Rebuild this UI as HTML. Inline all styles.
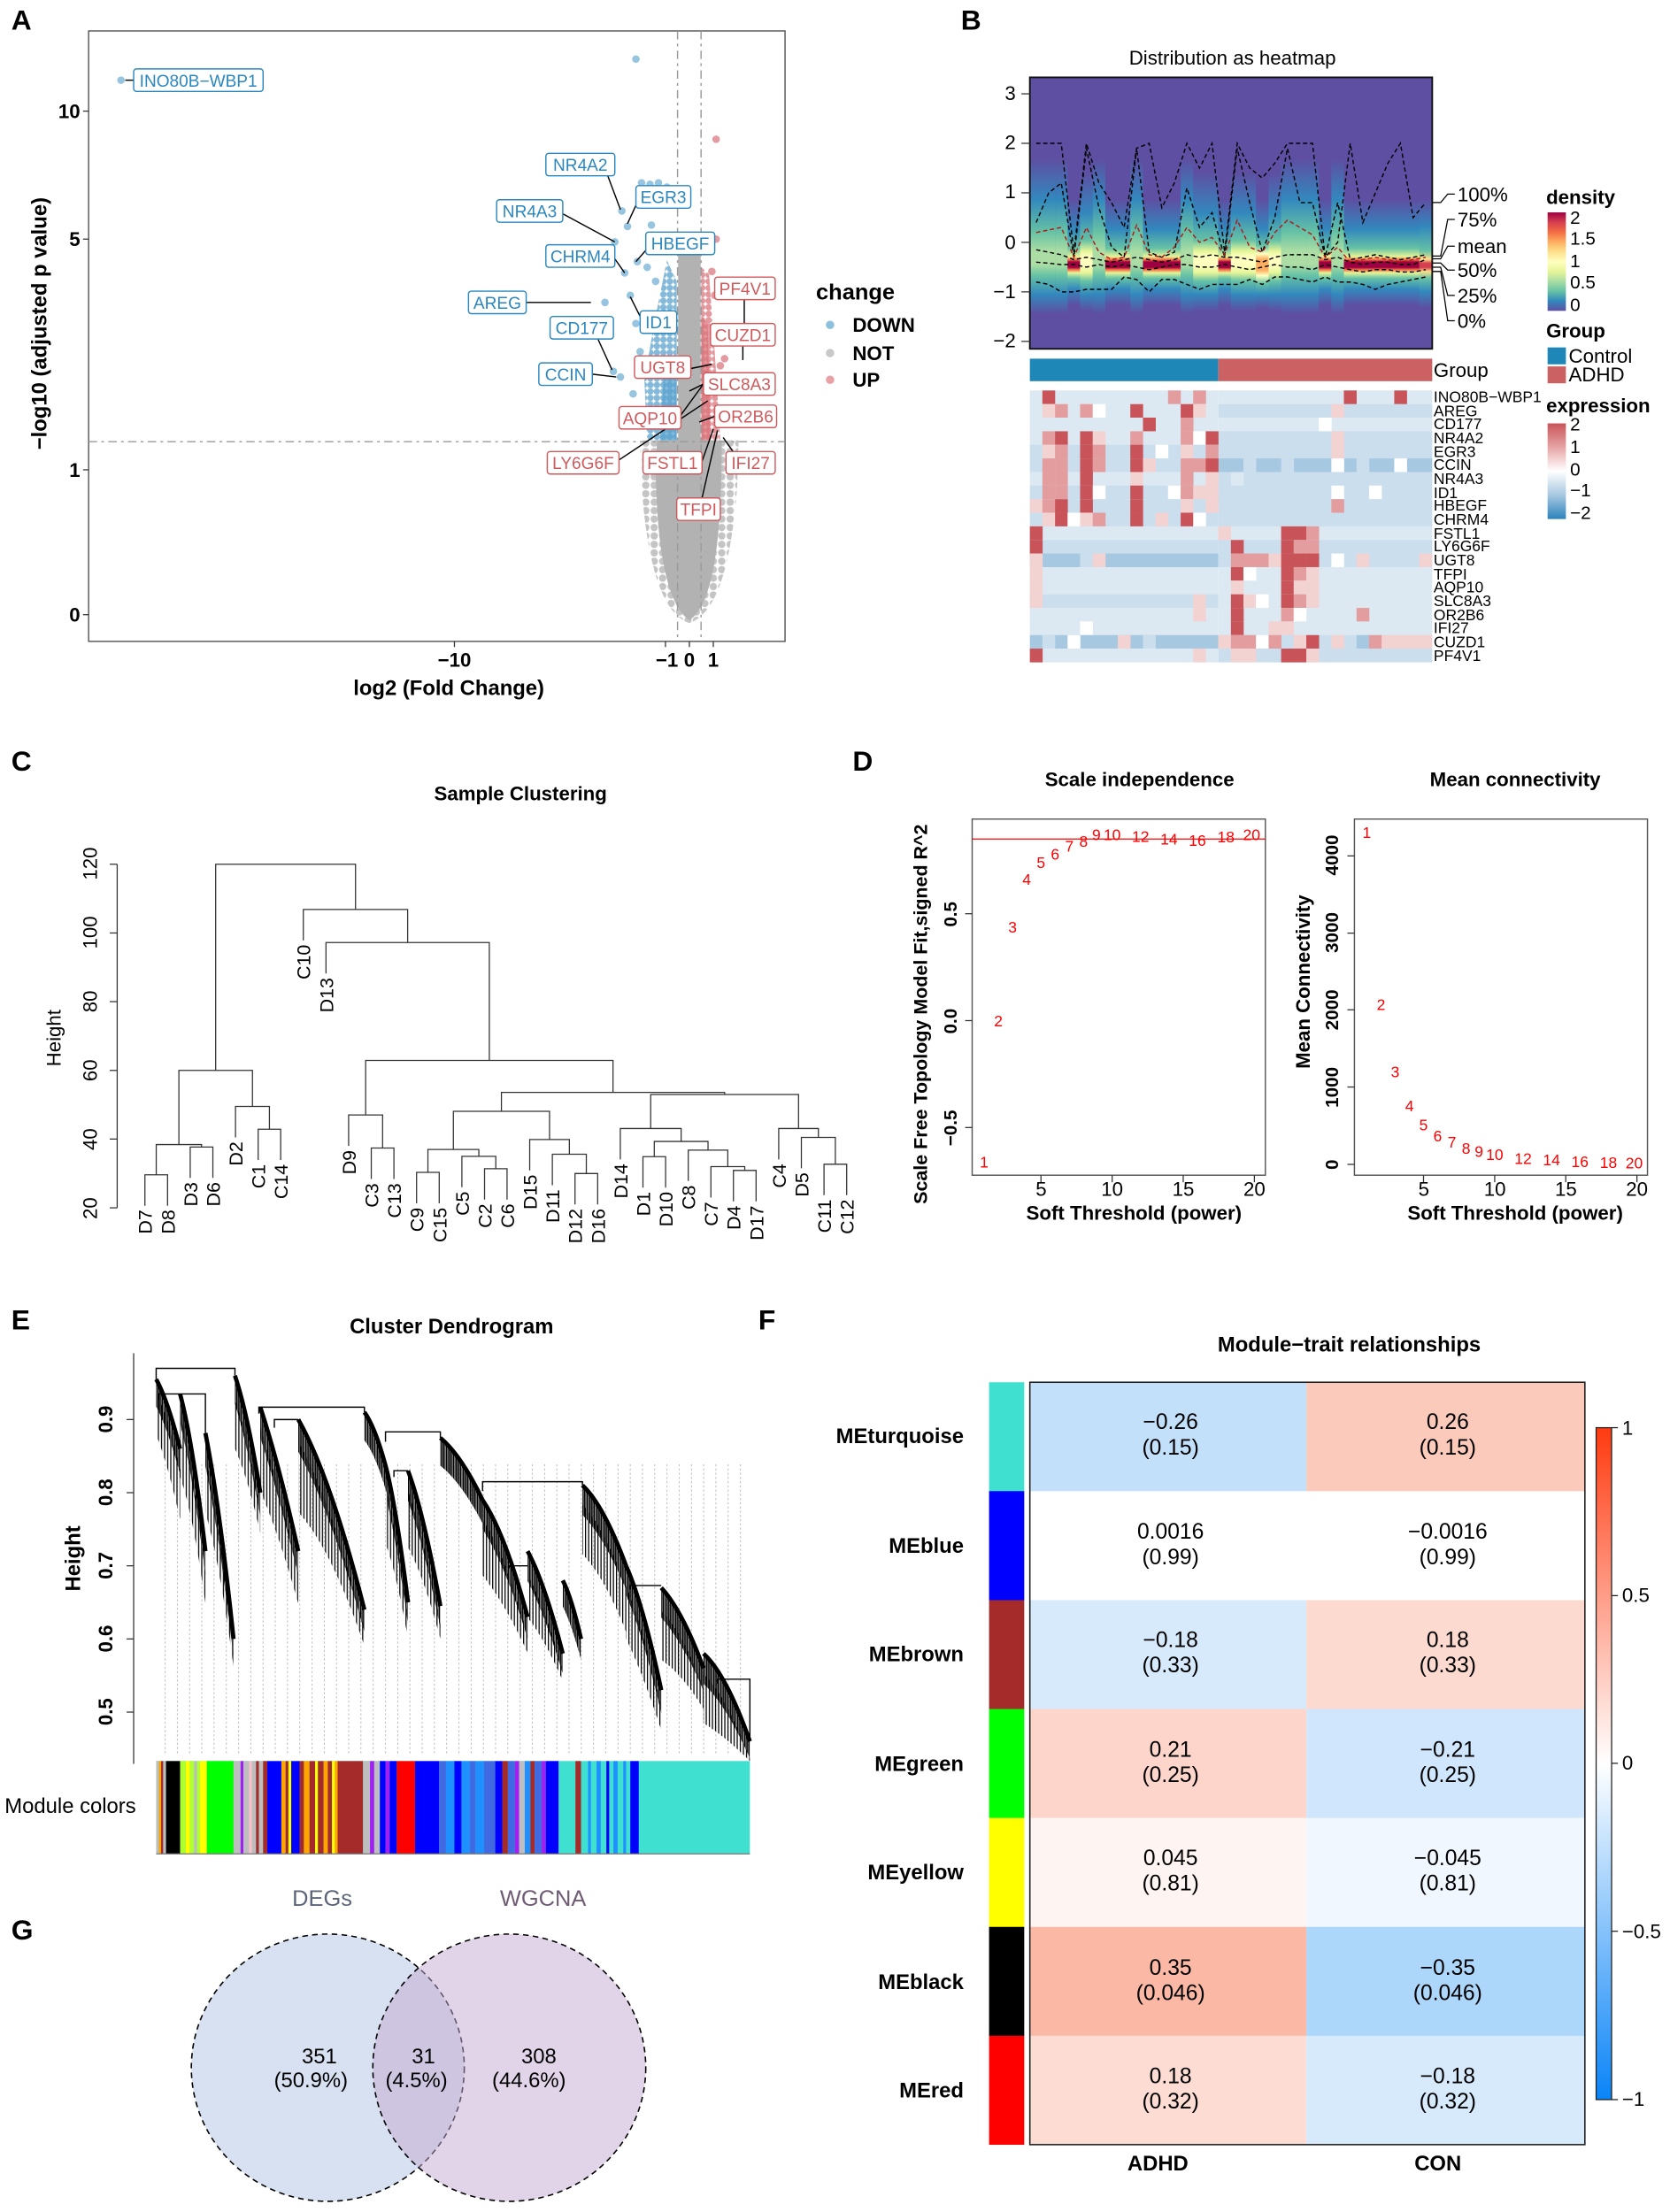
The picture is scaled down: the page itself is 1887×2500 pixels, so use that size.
<!DOCTYPE html>
<html><head><meta charset="utf-8">
<style>html,body{margin:0;padding:0;background:#fff}svg{display:block}
.R{fill:#C85459}.r{fill:#E39D9E}.p{fill:#F3D2D2}.w{fill:#FFFFFF}.a{fill:#DDE9F2}.b{fill:#CADEED}.c{fill:#A7C8E1}
</style>
</head><body>
<svg xmlns="http://www.w3.org/2000/svg" width="1887" height="2500" viewBox="0 0 1187 1572.6" preserveAspectRatio="none" font-family="'Liberation Sans',Arial,sans-serif">
<defs>
<pattern id="pb" width="4.6" height="4.6" patternUnits="userSpaceOnUse"><circle cx="2.3" cy="2.3" r="2.3" fill="#6FADD3" fill-opacity="0.85"/></pattern>
<pattern id="pr" width="4.6" height="4.6" patternUnits="userSpaceOnUse"><circle cx="2.3" cy="2.3" r="2.3" fill="#DE868C" fill-opacity="0.85"/></pattern>
<pattern id="pg" width="6" height="6" patternUnits="userSpaceOnUse"><circle cx="3" cy="3" r="2.6" fill="#C4C4C4"/></pattern>
<pattern id="hat" width="1" height="50" patternUnits="userSpaceOnUse"><rect x="0" y="0" width="0.75" height="50" fill="#000"/></pattern>
<pattern id="hat2" width="2.2" height="80" patternUnits="userSpaceOnUse"><rect x="0" y="0" width="0.8" height="80" fill="#000"/></pattern>
<pattern id="dots" width="8.7" height="3" patternUnits="userSpaceOnUse"><rect x="4" y="0" width="0.5" height="1.5" fill="#aaa"/></pattern>
<linearGradient id="gP" x1="0" y1="0" x2="0" y2="1"><stop offset="0" stop-color="#5E4FA2"/><stop offset="0.45" stop-color="#5E4FA2"/><stop offset="0.56" stop-color="#3288BD"/><stop offset="0.63" stop-color="#66C2A5"/><stop offset="0.66" stop-color="#E6F598"/><stop offset="0.672" stop-color="#F46D43"/><stop offset="0.68" stop-color="#9E0142"/><stop offset="0.70" stop-color="#9E0142"/><stop offset="0.708" stop-color="#F46D43"/><stop offset="0.72" stop-color="#E6F598"/><stop offset="0.74" stop-color="#66C2A5"/><stop offset="0.78" stop-color="#3288BD"/><stop offset="0.84" stop-color="#5E4FA2"/><stop offset="1" stop-color="#5E4FA2"/></linearGradient>
<linearGradient id="gB" x1="0" y1="0" x2="0" y2="1"><stop offset="0" stop-color="#5E4FA2"/><stop offset="0.3" stop-color="#5E4FA2"/><stop offset="0.45" stop-color="#3288BD"/><stop offset="0.57" stop-color="#66C2A5"/><stop offset="0.64" stop-color="#ABDDA4"/><stop offset="0.69" stop-color="#ABDDA4"/><stop offset="0.73" stop-color="#66C2A5"/><stop offset="0.8" stop-color="#3288BD"/><stop offset="0.87" stop-color="#5E4FA2"/><stop offset="1" stop-color="#5E4FA2"/></linearGradient>
<linearGradient id="gY" x1="0" y1="0" x2="0" y2="1"><stop offset="0" stop-color="#5E4FA2"/><stop offset="0.35" stop-color="#5E4FA2"/><stop offset="0.5" stop-color="#3288BD"/><stop offset="0.6" stop-color="#66C2A5"/><stop offset="0.64" stop-color="#E6F598"/><stop offset="0.66" stop-color="#FFFFBF"/><stop offset="0.69" stop-color="#FFFFBF"/><stop offset="0.72" stop-color="#E6F598"/><stop offset="0.75" stop-color="#66C2A5"/><stop offset="0.8" stop-color="#3288BD"/><stop offset="0.86" stop-color="#5E4FA2"/><stop offset="1" stop-color="#5E4FA2"/></linearGradient>
<linearGradient id="gO" x1="0" y1="0" x2="0" y2="1"><stop offset="0" stop-color="#5E4FA2"/><stop offset="0.45" stop-color="#5E4FA2"/><stop offset="0.56" stop-color="#3288BD"/><stop offset="0.62" stop-color="#66C2A5"/><stop offset="0.65" stop-color="#FFFFBF"/><stop offset="0.67" stop-color="#FDAE61"/><stop offset="0.71" stop-color="#FDAE61"/><stop offset="0.73" stop-color="#FFFFBF"/><stop offset="0.76" stop-color="#66C2A5"/><stop offset="0.8" stop-color="#3288BD"/><stop offset="0.85" stop-color="#5E4FA2"/><stop offset="1" stop-color="#5E4FA2"/></linearGradient>
<linearGradient id="gM" x1="0" y1="0" x2="0" y2="1"><stop offset="0" stop-color="#5E4FA2"/><stop offset="0.45" stop-color="#5E4FA2"/><stop offset="0.55" stop-color="#3288BD"/><stop offset="0.64" stop-color="#66C2A5"/><stop offset="0.67" stop-color="#FEE08B"/><stop offset="0.685" stop-color="#D53E4F"/><stop offset="0.70" stop-color="#D53E4F"/><stop offset="0.715" stop-color="#FEE08B"/><stop offset="0.74" stop-color="#66C2A5"/><stop offset="0.79" stop-color="#3288BD"/><stop offset="0.85" stop-color="#5E4FA2"/><stop offset="1" stop-color="#5E4FA2"/></linearGradient>
<linearGradient id="gd" x1="0" y1="1" x2="0" y2="0"><stop offset="0" stop-color="#5E4FA2"/><stop offset="0.1" stop-color="#3288BD"/><stop offset="0.2" stop-color="#66C2A5"/><stop offset="0.3" stop-color="#ABDDA4"/><stop offset="0.4" stop-color="#E6F598"/><stop offset="0.5" stop-color="#FFFFBF"/><stop offset="0.6" stop-color="#FEE08B"/><stop offset="0.7" stop-color="#FDAE61"/><stop offset="0.8" stop-color="#F46D43"/><stop offset="0.9" stop-color="#D53E4F"/><stop offset="1" stop-color="#9E0142"/></linearGradient>
<linearGradient id="ge" x1="0" y1="1" x2="0" y2="0"><stop offset="0" stop-color="#2A83BA"/><stop offset="0.25" stop-color="#A7C8E1"/><stop offset="0.5" stop-color="#FFFFFF"/><stop offset="0.75" stop-color="#E6A4A5"/><stop offset="1" stop-color="#C85459"/></linearGradient>
<linearGradient id="gf" x1="0" y1="1" x2="0" y2="0"><stop offset="0" stop-color="#0A84F7"/><stop offset="0.5" stop-color="#FFFFFF"/><stop offset="1" stop-color="#FF3A10"/></linearGradient>
</defs>

<!-- ================= Panel A ================= -->
<rect x="63" y="22" width="495" height="434" fill="#fff" stroke="#555" stroke-width="0.9"/>
<path d="M490 443 C470 436 460 400 456 345 L455 313 L525 313 L524 345 C520 400 510 436 490 443 Z" fill="url(#pg)"/>
<path d="M490 441 C474 430 467 390 466 335 L467 313 L482 313 L482 180 L498 180 L498 313 L513 313 C513 390 506 430 490 441 Z" fill="#B2B2B2"/>
<path d="M460 313 L481 313 L481 200 L474 185 L465 230 L458 270 Z" fill="url(#pb)"/>
<path d="M469 313 L481 313 L481 255 L472 262 Z" fill="#5AA3CF" fill-opacity="0.75"/>
<path d="M498.5 313 L512 313 L508 250 L504 195 L498.5 190 Z" fill="url(#pr)"/>
<path d="M498.5 313 L505 313 L503 230 L498.5 225 Z" fill="#D9737A" fill-opacity="0.75"/>
<g fill="#7DB6D7" fill-opacity="0.8">
<circle cx="86" cy="57" r="2.7"/><circle cx="452" cy="42" r="2.7"/><circle cx="442" cy="150" r="2.7"/><circle cx="446" cy="161" r="2.7"/>
<circle cx="437" cy="172" r="2.7"/><circle cx="444" cy="194" r="2.7"/><circle cx="430" cy="215" r="2.7"/><circle cx="448" cy="210" r="2.7"/>
<circle cx="436" cy="264" r="2.7"/><circle cx="441" cy="268" r="2.7"/><circle cx="453" cy="186" r="2.7"/><circle cx="456" cy="130" r="2.7"/>
<circle cx="462" cy="131" r="2.7"/><circle cx="468" cy="130" r="2.7"/><circle cx="474" cy="133" r="2.7"/><circle cx="463" cy="160" r="2.7"/>
<circle cx="470" cy="175" r="2.7"/><circle cx="460" cy="190" r="2.7"/><circle cx="466" cy="200" r="2.7"/><circle cx="452" cy="230" r="2.7"/>
<circle cx="455" cy="250" r="2.7"/><circle cx="450" cy="280" r="2.7"/><circle cx="448" cy="295" r="2.7"/></g>
<g fill="#E39AA0"><circle cx="509" cy="99" r="2.7"/><circle cx="509" cy="170" r="2.7"/><circle cx="506" cy="193" r="2.7"/><circle cx="512" cy="260" r="2.7"/><circle cx="515" cy="255" r="2.7"/><circle cx="514" cy="300" r="2.7"/><circle cx="508" cy="210" r="2.7"/></g>
<g stroke="#999" stroke-width="0.9" stroke-dasharray="6 3 2 3"><line x1="481.6" y1="22" x2="481.6" y2="456"/><line x1="498.3" y1="22" x2="498.3" y2="456"/><line x1="63" y1="314" x2="558" y2="314"/></g>
<g stroke="#333" stroke-width="0.8"><line x1="59" y1="79" x2="63" y2="79"/><line x1="59" y1="170" x2="63" y2="170"/><line x1="59" y1="334" x2="63" y2="334"/><line x1="59" y1="437" x2="63" y2="437"/>
<line x1="323" y1="456" x2="323" y2="460"/><line x1="473" y1="456" x2="473" y2="460"/><line x1="490" y1="456" x2="490" y2="460"/><line x1="507" y1="456" x2="507" y2="460"/></g>
<g stroke="#000" stroke-width="0.9">
<line x1="95" y1="57" x2="89" y2="57"/><line x1="432" y1="125" x2="441" y2="149"/><line x1="452" y1="146" x2="446" y2="159"/>
<line x1="400" y1="152" x2="437" y2="172"/><line x1="459" y1="178" x2="452" y2="186"/><line x1="437" y1="184" x2="444" y2="194"/>
<line x1="374" y1="215" x2="420" y2="215"/><line x1="455" y1="225" x2="448" y2="211"/><line x1="425" y1="241" x2="435" y2="263"/>
<line x1="421" y1="266" x2="438" y2="268"/><line x1="529" y1="213" x2="529" y2="237"/><line x1="528" y1="246" x2="528" y2="256"/>
<line x1="491" y1="262" x2="506" y2="259"/><line x1="500" y1="273" x2="490" y2="278"/><line x1="484" y1="295" x2="500" y2="273"/>
<line x1="508" y1="296" x2="497" y2="300"/><line x1="440" y1="327" x2="503" y2="285"/><line x1="499" y1="328" x2="507" y2="305"/>
<line x1="521" y1="321" x2="514" y2="311"/><line x1="499" y1="354" x2="510" y2="306"/></g>
<g fill="#fff" stroke-width="0.9">
<g stroke="#2B87BF">
<rect x="95" y="49" width="92" height="16" rx="2"/><rect x="388" y="109" width="49" height="16" rx="2"/><rect x="452" y="132" width="39" height="16" rx="2"/>
<rect x="353" y="142" width="47" height="16" rx="2"/><rect x="459" y="165" width="49" height="16" rx="2"/><rect x="388" y="174" width="49" height="16" rx="2"/>
<rect x="333" y="207" width="41" height="16" rx="2"/><rect x="455" y="221" width="26" height="16" rx="2"/><rect x="391" y="225" width="45" height="16" rx="2"/>
<rect x="383" y="258" width="38" height="16" rx="2"/></g>
<g stroke="#CF5A5E">
<rect x="508" y="197" width="43" height="16" rx="2"/><rect x="505" y="230" width="46" height="16" rx="2"/><rect x="451" y="253" width="40" height="16" rx="2"/>
<rect x="500" y="265" width="51" height="16" rx="2"/><rect x="440" y="289" width="44" height="16" rx="2"/><rect x="508" y="288" width="44" height="16" rx="2"/>
<rect x="389" y="321" width="51" height="16" rx="2"/><rect x="457" y="321" width="42" height="16" rx="2"/><rect x="516" y="321" width="35" height="16" rx="2"/>
<rect x="481" y="354" width="31" height="16" rx="2"/></g></g>
<g font-size="12" text-anchor="middle">
<g fill="#2B87BF"><text x="141" y="61.5">INO80B−WBP1</text><text x="412.5" y="121.5">NR4A2</text><text x="471.5" y="144.5">EGR3</text>
<text x="376.5" y="154.5">NR4A3</text><text x="483.5" y="177.5">HBEGF</text><text x="412.5" y="186.5">CHRM4</text>
<text x="353.5" y="219.5">AREG</text><text x="468" y="233.5">ID1</text><text x="413.5" y="237.5">CD177</text><text x="402" y="270.5">CCIN</text></g>
<g fill="#CF5A5E"><text x="529.5" y="209.5">PF4V1</text><text x="528" y="242.5">CUZD1</text><text x="471" y="265.5">UGT8</text><text x="525.5" y="277.5">SLC8A3</text>
<text x="462" y="301.5">AQP10</text><text x="530" y="300.5">OR2B6</text><text x="414.5" y="333.5">LY6G6F</text><text x="478" y="333.5">FSTL1</text>
<text x="533.5" y="333.5">IFI27</text><text x="496.5" y="366.5">TFPI</text></g></g>
<g font-size="14" font-weight="bold" text-anchor="end"><text x="57" y="84">10</text><text x="57" y="175">5</text><text x="57" y="339">1</text><text x="57" y="442">0</text></g>
<g font-size="14" font-weight="bold" text-anchor="middle">
<text x="323" y="474">−10</text><text x="474" y="474">−1</text><text x="490" y="474">0</text><text x="507" y="474">1</text>
<text x="319" y="494" font-size="15">log2 (Fold Change)</text>
<text transform="translate(33,230) rotate(-90)" font-size="15">−log10 (adjusted p value)</text></g>
<text x="580" y="213" font-size="16" font-weight="bold">change</text>
<circle cx="590" cy="231" r="3" fill="#8DC0DC"/><circle cx="590" cy="251" r="3" fill="#C8C8C8"/><circle cx="590" cy="270" r="3" fill="#E8A2A6"/>
<g font-size="14" font-weight="bold"><text x="606" y="236">DOWN</text><text x="606" y="256">NOT</text><text x="606" y="275">UP</text></g>

<!-- ================= Panel B ================= -->
<rect x="732" y="55" width="286" height="193" fill="#5E4FA2"/>
<g>
<rect x="732" y="55" width="9.1" height="193" fill="url(#gB)"/><rect x="740.9" y="55" width="9.1" height="193" fill="url(#gB)"/><rect x="749.9" y="55" width="9.1" height="193" fill="url(#gB)"/>
<rect x="758.8" y="55" width="9.1" height="193" fill="url(#gP)"/><rect x="767.7" y="55" width="9.1" height="193" fill="url(#gY)"/><rect x="776.7" y="55" width="9.1" height="193" fill="url(#gB)"/>
<rect x="785.6" y="55" width="9.1" height="193" fill="url(#gP)"/><rect x="794.5" y="55" width="9.1" height="193" fill="url(#gP)"/><rect x="803.4" y="55" width="9.1" height="193" fill="url(#gB)"/>
<rect x="812.4" y="55" width="9.1" height="193" fill="url(#gP)"/><rect x="821.3" y="55" width="9.1" height="193" fill="url(#gP)"/><rect x="830.2" y="55" width="9.1" height="193" fill="url(#gP)"/>
<rect x="839.2" y="55" width="9.1" height="193" fill="url(#gB)"/><rect x="848.1" y="55" width="9.1" height="193" fill="url(#gY)"/><rect x="857" y="55" width="9.1" height="193" fill="url(#gY)"/>
<rect x="865.9" y="55" width="9.1" height="193" fill="url(#gP)"/><rect x="874.9" y="55" width="9.1" height="193" fill="url(#gY)"/><rect x="883.8" y="55" width="9.1" height="193" fill="url(#gY)"/>
<rect x="892.7" y="55" width="9.1" height="193" fill="url(#gO)"/><rect x="901.7" y="55" width="9.1" height="193" fill="url(#gY)"/><rect x="910.6" y="55" width="9.1" height="193" fill="url(#gB)"/>
<rect x="919.5" y="55" width="9.1" height="193" fill="url(#gB)"/><rect x="928.5" y="55" width="9.1" height="193" fill="url(#gB)"/><rect x="937.4" y="55" width="9.1" height="193" fill="url(#gP)"/>
<rect x="946.3" y="55" width="9.1" height="193" fill="url(#gB)"/><rect x="955.2" y="55" width="9.1" height="193" fill="url(#gP)"/><rect x="964.2" y="55" width="9.1" height="193" fill="url(#gP)"/>
<rect x="973.1" y="55" width="9.1" height="193" fill="url(#gP)"/><rect x="982" y="55" width="9.1" height="193" fill="url(#gP)"/><rect x="991" y="55" width="9.1" height="193" fill="url(#gP)"/>
<rect x="999.9" y="55" width="9.1" height="193" fill="url(#gP)"/><rect x="1008.8" y="55" width="9.2" height="193" fill="url(#gM)"/>
</g>
<g fill="none" stroke-width="0.9" stroke-dasharray="3 2">
<polyline stroke="#000" points="736.5,101.9 745.4,101.9 754.3,101.9 763.3,179.3 772.2,101.9 781.1,130.1 790.1,144.1 799,161.7 807.9,105.4 816.8,101.9 825.8,147.7 834.7,130.1 843.6,101.9 852.6,119.5 861.5,101.9 870.4,179.3 879.4,101.9 888.3,119.5 897.2,126.5 906.1,116 915.1,101.9 924,101.9 932.9,101.9 941.9,182.9 950.8,172.3 959.7,101.9 968.7,158.2 977.6,137.1 986.5,116 995.4,101.9 1004.4,154.7 1013.3,144.1"/>
<polyline stroke="#000" points="736.5,158.2 745.4,137.1 754.3,130.1 763.3,182.9 772.2,105.4 781.1,147.7 790.1,175.8 799,182.9 807.9,105.4 816.8,179.3 825.8,182.9 834.7,179.3 843.6,133.6 852.6,161.7 861.5,151.2 870.4,182.9 879.4,105.4 888.3,144.1 897.2,179.3 906.1,154.7 915.1,105.4 924,144.1 932.9,144.1 941.9,182.9 950.8,144.1 959.7,184.6 968.7,182.9 977.6,181.1 986.5,182.9 995.4,184.6 1004.4,182.9 1013.3,181.1"/>
<polyline stroke="#B01818" points="736.5,165.3 745.4,163.5 754.3,161.7 763.3,182.9 772.2,161.7 781.1,179.3 790.1,184.6 799,182.9 807.9,160 816.8,181.1 825.8,182.9 834.7,175.8 843.6,161.7 852.6,172.3 861.5,168.8 870.4,181.1 879.4,156.5 888.3,175.8 897.2,179.3 906.1,165.3 915.1,156.5 924,161.7 932.9,167 941.9,182.9 950.8,175.8 959.7,186.4 968.7,184.6 977.6,182.9 986.5,184.6 995.4,186.4 1004.4,184.6 1013.3,182.9"/>
<polyline stroke="#000" points="736.5,177.6 745.4,179.3 754.3,181.1 763.3,184.6 772.2,182.9 781.1,184.6 790.1,186.4 799,184.6 807.9,182.9 816.8,184.6 825.8,186.4 834.7,184.6 843.6,181.1 852.6,182.9 861.5,181.1 870.4,182.9 879.4,182.9 888.3,184.6 897.2,186.4 906.1,182.9 915.1,181.1 924,181.1 932.9,181.1 941.9,184.6 950.8,182.9 959.7,186.4 968.7,188.1 977.6,186.4 986.5,186.4 995.4,188.1 1004.4,188.1 1013.3,184.6"/>
<polyline stroke="#000" points="736.5,186.4 745.4,187.1 754.3,188.1 763.3,188.1 772.2,189.9 781.1,188.1 790.1,189.9 799,188.1 807.9,189.9 816.8,191.7 825.8,189.9 834.7,188.1 843.6,188.1 852.6,189.9 861.5,189.9 870.4,188.1 879.4,189.9 888.3,191.7 897.2,189.9 906.1,188.1 915.1,189.9 924,189.9 932.9,191.7 941.9,188.1 950.8,189.9 959.7,191.7 968.7,193.4 977.6,191.7 986.5,191.7 995.4,193.4 1004.4,193.4 1013.3,191.7"/>
<polyline stroke="#000" points="736.5,200.5 745.4,202.2 754.3,207.5 763.3,207.5 772.2,205.7 781.1,205.7 790.1,205.7 799,196.9 807.9,198.7 816.8,207.5 825.8,198.7 834.7,198.7 843.6,202.2 852.6,205.7 861.5,202.2 870.4,202.2 879.4,202.2 888.3,198.7 897.2,202.2 906.1,196.9 915.1,196.9 924,198.7 932.9,200.5 941.9,196.9 950.8,200.5 959.7,200.5 968.7,202.2 977.6,205.7 986.5,202.2 995.4,200.5 1004.4,198.7 1013.3,196.9"/>
</g>
<rect x="732" y="55" width="286" height="193" fill="none" stroke="#111" stroke-width="1.2"/>
<g stroke="#333" stroke-width="0.8"><line x1="726" y1="66.7" x2="732" y2="66.7"/><line x1="726" y1="101.9" x2="732" y2="101.9"/><line x1="726" y1="137.1" x2="732" y2="137.1"/><line x1="726" y1="172.3" x2="732" y2="172.3"/><line x1="726" y1="207.5" x2="732" y2="207.5"/><line x1="726" y1="242.7" x2="732" y2="242.7"/></g>
<g fill="none" stroke="#000" stroke-width="0.8">
<polyline points="1018,144 1024,144 1029,138 1034,138"/><polyline points="1018,182 1024,182 1029,156 1034,156"/><polyline points="1018,184 1024,184 1029,175 1034,175"/>
<polyline points="1018,187 1024,187 1029,192 1034,192"/><polyline points="1018,190 1024,190 1029,210 1034,210"/><polyline points="1018,193 1024,193 1029,228 1034,228"/></g>
<rect x="732" y="255" width="134" height="16" fill="#1F87B8"/><rect x="866" y="255" width="152" height="16" fill="#CB6163"/>
<!-- expression heatmap -->
<g>
<g transform="translate(0,277.6)"><rect class="a" x="732" width="134" height="9.8"/><rect class="a" x="866" width="152" height="9.8"/>
<rect class="R" x="740.9" width="9.1" height="9.8"/><rect class="r" x="830.2" width="9.1" height="9.8"/><rect class="r" x="848.1" width="9.1" height="9.8"/><rect class="R" x="955.2" width="9.1" height="9.8"/><rect class="R" x="991" width="9.1" height="9.8"/></g>
<g transform="translate(0,287.3)"><rect class="a" x="732" width="134" height="9.8"/><rect class="b" x="866" width="152" height="9.8"/>
<rect class="p" x="740.9" width="9.1" height="9.8"/><rect class="r" x="749.9" width="9.1" height="9.8"/><rect class="r" x="767.7" width="9.1" height="9.8"/><rect class="w" x="776.7" width="9.1" height="9.8"/><rect class="R" x="803.4" width="9.1" height="9.8"/><rect class="R" x="839.2" width="9.1" height="9.8"/><rect class="p" x="848.1" width="9.1" height="9.8"/><rect class="p" x="946.3" width="9.1" height="9.8"/></g>
<g transform="translate(0,296.9)"><rect class="a" x="732" width="134" height="9.8"/><rect class="a" x="866" width="152" height="9.8"/>
<rect class="R" x="812.4" width="9.1" height="9.8"/><rect class="r" x="839.2" width="9.1" height="9.8"/><rect class="w" x="937.4" width="9.1" height="9.8"/></g>
<g transform="translate(0,306.6)"><rect class="a" x="732" width="134" height="9.8"/><rect class="b" x="866" width="152" height="9.8"/>
<rect class="r" x="740.9" width="9.1" height="9.8"/><rect class="R" x="749.9" width="9.1" height="9.8"/><rect class="R" x="767.7" width="9.1" height="9.8"/><rect class="p" x="776.7" width="9.1" height="9.8"/><rect class="r" x="803.4" width="9.1" height="9.8"/><rect class="r" x="839.2" width="9.1" height="9.8"/><rect class="w" x="848.1" width="9.1" height="9.8"/><rect class="R" x="857" width="9.1" height="9.8"/><rect class="p" x="946.3" width="9.1" height="9.8"/></g>
<g transform="translate(0,316.2)"><rect class="b" x="732" width="134" height="9.8"/><rect class="b" x="866" width="152" height="9.8"/>
<rect class="p" x="740.9" width="9.1" height="9.8"/><rect class="r" x="749.9" width="9.1" height="9.8"/><rect class="R" x="767.7" width="9.1" height="9.8"/><rect class="r" x="776.7" width="9.1" height="9.8"/><rect class="R" x="803.4" width="9.1" height="9.8"/><rect class="w" x="821.3" width="9.1" height="9.8"/><rect class="p" x="839.2" width="9.1" height="9.8"/><rect class="r" x="857" width="9.1" height="9.8"/><rect class="p" x="946.3" width="9.1" height="9.8"/></g>
<g transform="translate(0,325.9)"><rect class="b" x="732" width="134" height="9.8"/><rect class="c" x="866" width="152" height="9.8"/>
<rect class="r" x="740.9" width="9.1" height="9.8"/><rect class="r" x="749.9" width="9.1" height="9.8"/><rect class="R" x="767.7" width="9.1" height="9.8"/><rect class="r" x="776.7" width="9.1" height="9.8"/><rect class="R" x="803.4" width="9.1" height="9.8"/><rect class="p" x="812.4" width="9.1" height="9.8"/><rect class="r" x="839.2" width="9.1" height="9.8"/><rect class="r" x="848.1" width="9.1" height="9.8"/><rect class="R" x="857" width="9.1" height="9.8"/><rect class="b" x="883.8" width="9.1" height="9.8"/><rect class="b" x="910.6" width="9.1" height="9.8"/><rect class="w" x="946.3" width="9.1" height="9.8"/><rect class="b" x="964.2" width="9.1" height="9.8"/><rect class="w" x="991" width="9.1" height="9.8"/></g>
<g transform="translate(0,335.6)"><rect class="a" x="732" width="134" height="9.8"/><rect class="b" x="866" width="152" height="9.8"/>
<rect class="r" x="740.9" width="9.1" height="9.8"/><rect class="r" x="749.9" width="9.1" height="9.8"/><rect class="R" x="767.7" width="9.1" height="9.8"/><rect class="p" x="803.4" width="9.1" height="9.8"/><rect class="r" x="839.2" width="9.1" height="9.8"/><rect class="p" x="857" width="9.1" height="9.8"/><rect class="a" x="874.9" width="9.1" height="9.8"/></g>
<g transform="translate(0,345.2)"><rect class="b" x="732" width="134" height="9.8"/><rect class="b" x="866" width="152" height="9.8"/>
<rect class="r" x="740.9" width="9.1" height="9.8"/><rect class="r" x="749.9" width="9.1" height="9.8"/><rect class="R" x="767.7" width="9.1" height="9.8"/><rect class="w" x="776.7" width="9.1" height="9.8"/><rect class="R" x="803.4" width="9.1" height="9.8"/><rect class="w" x="830.2" width="9.1" height="9.8"/><rect class="r" x="839.2" width="9.1" height="9.8"/><rect class="p" x="848.1" width="9.1" height="9.8"/><rect class="p" x="857" width="9.1" height="9.8"/><rect class="w" x="946.3" width="9.1" height="9.8"/><rect class="w" x="973.1" width="9.1" height="9.8"/></g>
<g transform="translate(0,354.9)"><rect class="b" x="732" width="134" height="9.8"/><rect class="b" x="866" width="152" height="9.8"/>
<rect class="p" x="732" width="9.1" height="9.8"/><rect class="r" x="740.9" width="9.1" height="9.8"/><rect class="R" x="749.9" width="9.1" height="9.8"/><rect class="R" x="767.7" width="9.1" height="9.8"/><rect class="R" x="803.4" width="9.1" height="9.8"/><rect class="p" x="839.2" width="9.1" height="9.8"/><rect class="p" x="857" width="9.1" height="9.8"/><rect class="r" x="946.3" width="9.1" height="9.8"/></g>
<g transform="translate(0,364.5)"><rect class="b" x="732" width="134" height="9.8"/><rect class="b" x="866" width="152" height="9.8"/>
<rect class="p" x="740.9" width="9.1" height="9.8"/><rect class="R" x="749.9" width="9.1" height="9.8"/><rect class="w" x="758.8" width="9.1" height="9.8"/><rect class="p" x="767.7" width="9.1" height="9.8"/><rect class="r" x="776.7" width="9.1" height="9.8"/><rect class="R" x="803.4" width="9.1" height="9.8"/><rect class="p" x="821.3" width="9.1" height="9.8"/><rect class="R" x="839.2" width="9.1" height="9.8"/><rect class="w" x="848.1" width="9.1" height="9.8"/></g>
<g transform="translate(0,374.2)"><rect class="a" x="732" width="134" height="9.8"/><rect class="a" x="866" width="152" height="9.8"/>
<rect class="R" x="732" width="9.1" height="9.8"/><rect class="p" x="865.9" width="9.1" height="9.8"/><rect class="R" x="910.6" width="9.1" height="9.8"/><rect class="R" x="919.5" width="9.1" height="9.8"/><rect class="r" x="928.5" width="9.1" height="9.8"/></g>
<g transform="translate(0,383.9)"><rect class="b" x="732" width="134" height="9.8"/><rect class="b" x="866" width="152" height="9.8"/>
<rect class="R" x="732" width="9.1" height="9.8"/><rect class="R" x="874.9" width="9.1" height="9.8"/><rect class="R" x="910.6" width="9.1" height="9.8"/><rect class="r" x="919.5" width="9.1" height="9.8"/><rect class="r" x="928.5" width="9.1" height="9.8"/></g>
<g transform="translate(0,393.5)"><rect class="c" x="732" width="134" height="9.8"/><rect class="b" x="866" width="152" height="9.8"/>
<rect class="p" x="732" width="9.1" height="9.8"/><rect class="b" x="767.7" width="9.1" height="9.8"/><rect class="p" x="776.7" width="9.1" height="9.8"/><rect class="r" x="874.9" width="9.1" height="9.8"/><rect class="r" x="883.8" width="9.1" height="9.8"/><rect class="r" x="892.7" width="9.1" height="9.8"/><rect class="p" x="901.7" width="9.1" height="9.8"/><rect class="R" x="910.6" width="9.1" height="9.8"/><rect class="R" x="919.5" width="9.1" height="9.8"/><rect class="R" x="928.5" width="9.1" height="9.8"/><rect class="w" x="946.3" width="9.1" height="9.8"/><rect class="p" x="964.2" width="9.1" height="9.8"/><rect class="p" x="1008.8" width="9.1" height="9.8"/></g>
<g transform="translate(0,403.2)"><rect class="a" x="732" width="134" height="9.8"/><rect class="a" x="866" width="152" height="9.8"/>
<rect class="p" x="732" width="9.1" height="9.8"/><rect class="R" x="874.9" width="9.1" height="9.8"/><rect class="w" x="883.8" width="9.1" height="9.8"/><rect class="R" x="910.6" width="9.1" height="9.8"/><rect class="r" x="919.5" width="9.1" height="9.8"/><rect class="p" x="928.5" width="9.1" height="9.8"/></g>
<g transform="translate(0,412.8)"><rect class="a" x="732" width="134" height="9.8"/><rect class="a" x="866" width="152" height="9.8"/>
<rect class="p" x="732" width="9.1" height="9.8"/><rect class="p" x="874.9" width="9.1" height="9.8"/><rect class="R" x="910.6" width="9.1" height="9.8"/><rect class="p" x="919.5" width="9.1" height="9.8"/><rect class="p" x="928.5" width="9.1" height="9.8"/></g>
<g transform="translate(0,422.5)"><rect class="b" x="732" width="134" height="9.8"/><rect class="a" x="866" width="152" height="9.8"/>
<rect class="p" x="732" width="9.1" height="9.8"/><rect class="p" x="848.1" width="9.1" height="9.8"/><rect class="R" x="874.9" width="9.1" height="9.8"/><rect class="p" x="883.8" width="9.1" height="9.8"/><rect class="w" x="892.7" width="9.1" height="9.8"/><rect class="R" x="910.6" width="9.1" height="9.8"/><rect class="r" x="919.5" width="9.1" height="9.8"/><rect class="p" x="928.5" width="9.1" height="9.8"/></g>
<g transform="translate(0,432.2)"><rect class="a" x="732" width="134" height="9.8"/><rect class="a" x="866" width="152" height="9.8"/>
<rect class="p" x="848.1" width="9.1" height="9.8"/><rect class="R" x="874.9" width="9.1" height="9.8"/><rect class="r" x="910.6" width="9.1" height="9.8"/><rect class="w" x="919.5" width="9.1" height="9.8"/><rect class="r" x="964.2" width="9.1" height="9.8"/></g>
<g transform="translate(0,441.8)"><rect class="a" x="732" width="134" height="9.8"/><rect class="a" x="866" width="152" height="9.8"/>
<rect class="w" x="767.7" width="9.1" height="9.8"/><rect class="R" x="874.9" width="9.1" height="9.8"/><rect class="p" x="901.7" width="9.1" height="9.8"/><rect class="p" x="910.6" width="9.1" height="9.8"/></g>
<g transform="translate(0,451.5)"><rect class="c" x="732" width="134" height="9.8"/><rect class="b" x="866" width="152" height="9.8"/>
<rect class="b" x="740.9" width="9.1" height="9.8"/><rect class="w" x="758.8" width="9.1" height="9.8"/><rect class="p" x="794.5" width="9.1" height="9.8"/><rect class="b" x="812.4" width="9.1" height="9.8"/><rect class="p" x="865.9" width="9.1" height="9.8"/><rect class="r" x="874.9" width="9.1" height="9.8"/><rect class="r" x="883.8" width="9.1" height="9.8"/><rect class="w" x="892.7" width="9.1" height="9.8"/><rect class="r" x="901.7" width="9.1" height="9.8"/><rect class="p" x="919.5" width="9.1" height="9.8"/><rect class="R" x="928.5" width="9.1" height="9.8"/><rect class="p" x="946.3" width="9.1" height="9.8"/><rect class="c" x="964.2" width="9.1" height="9.8"/><rect class="r" x="973.1" width="9.1" height="9.8"/><rect class="p" x="982" width="9.1" height="9.8"/><rect class="p" x="991" width="9.1" height="9.8"/><rect class="p" x="999.9" width="9.1" height="9.8"/><rect class="p" x="1008.8" width="9.1" height="9.8"/></g>
<g transform="translate(0,461.1)"><rect class="a" x="732" width="134" height="9.8"/><rect class="b" x="866" width="152" height="9.8"/>
<rect class="R" x="732" width="9.1" height="9.8"/><rect class="p" x="848.1" width="9.1" height="9.8"/><rect class="p" x="874.9" width="9.1" height="9.8"/><rect class="p" x="883.8" width="9.1" height="9.8"/><rect class="R" x="910.6" width="9.1" height="9.8"/><rect class="R" x="919.5" width="9.1" height="9.8"/><rect class="p" x="928.5" width="9.1" height="9.8"/></g>
</g>
<rect x="1100" y="151" width="13" height="70" fill="url(#gd)"/><rect x="1100" y="247" width="13" height="12" fill="#1F87B8"/><rect x="1100" y="260.5" width="13" height="12" fill="#CB6163"/><rect x="1100" y="301" width="13" height="68" fill="url(#ge)"/>
<text x="876" y="46" font-size="14" text-anchor="middle">Distribution as heatmap</text>
<g font-size="14" text-anchor="end"><text x="722" y="71">3</text><text x="722" y="106">2</text><text x="722" y="141">1</text><text x="722" y="177">0</text><text x="722" y="212">−1</text><text x="722" y="247">−2</text></g>
<g font-size="14"><text x="1036" y="143">100%</text><text x="1036" y="161">75%</text><text x="1036" y="180">mean</text><text x="1036" y="197">50%</text><text x="1036" y="215">25%</text><text x="1036" y="233">0%</text>
<text x="1019" y="268">Group</text></g>
<g font-size="11">
<text x="1019" y="286">INO80B−WBP1</text><text x="1019" y="296">AREG</text><text x="1019" y="305">CD177</text><text x="1019" y="315">NR4A2</text>
<text x="1019" y="325">EGR3</text><text x="1019" y="334">CCIN</text><text x="1019" y="344">NR4A3</text><text x="1019" y="354">ID1</text>
<text x="1019" y="363">HBEGF</text><text x="1019" y="373">CHRM4</text><text x="1019" y="383">FSTL1</text><text x="1019" y="392">LY6G6F</text>
<text x="1019" y="402">UGT8</text><text x="1019" y="412">TFPI</text><text x="1019" y="421">AQP10</text><text x="1019" y="431">SLC8A3</text>
<text x="1019" y="441">OR2B6</text><text x="1019" y="450">IFI27</text><text x="1019" y="460">CUZD1</text><text x="1019" y="470">PF4V1</text></g>
<g font-size="14" font-weight="bold"><text x="1099" y="145">density</text><text x="1099" y="240">Group</text><text x="1099" y="293">expression</text></g>
<g font-size="13"><text x="1116" y="159">2</text><text x="1116" y="174">1.5</text><text x="1116" y="190">1</text><text x="1116" y="205">0.5</text><text x="1116" y="221">0</text>
<text x="1115" y="258" font-size="14">Control</text><text x="1115" y="271" font-size="14">ADHD</text>
<text x="1116" y="306">2</text><text x="1116" y="322">1</text><text x="1116" y="338">0</text><text x="1116" y="353">−1</text><text x="1116" y="369">−2</text></g>

<!-- ================= Panel C ================= -->
<g fill="none" stroke="#333" stroke-width="0.8">
<line x1="83.3" y1="614.4" x2="83.3" y2="858.7"/>
<line x1="78" y1="614.4" x2="83.3" y2="614.4"/><line x1="78" y1="663.3" x2="83.3" y2="663.3"/><line x1="78" y1="712.1" x2="83.3" y2="712.1"/><line x1="78" y1="761" x2="83.3" y2="761"/><line x1="78" y1="809.8" x2="83.3" y2="809.8"/><line x1="78" y1="858.7" x2="83.3" y2="858.7"/>
<path d="M103 857.2V835.2H119.1V857.2"/>
<path d="M135.2 837.4V815.5H151.3V837.4"/>
<path d="M111.05 835.2V813.7H143.25V815.5"/>
<path d="M183.5 824.7V802.8H199.5V824.7"/>
<path d="M167.4 808.6V786.6H191.5V802.8"/>
<path d="M127.15 813.7V761H179.45V786.6"/>
<path d="M263.9 838.2V816.2H280V838.2"/>
<path d="M247.8 814.7V792.7H271.95V816.2"/>
<path d="M296.1 855.5V833.5H312.2V855.5"/>
<path d="M344.4 852.8V830.9H360.4V852.8"/>
<path d="M328.3 844V822.1H352.4V830.9"/>
<path d="M304.15 833.5V817.2H340.35V822.1"/>
<path d="M408.7 856.3V834.3H424.8V856.3"/>
<path d="M392.6 842.6V820.6H416.75V834.3"/>
<path d="M376.5 832.1V810.1H404.7V820.6"/>
<path d="M322.25 817.2V790.1H390.6V810.1"/>
<path d="M457 844.3V822.3H473.1V844.3"/>
<path d="M521.3 854.1V832.1H537.4V854.1"/>
<path d="M505.3 851.4V829.4H529.35V832.1"/>
<path d="M489.2 839.6V817.7H517.3V829.4"/>
<path d="M465.05 822.3V811.5H503.25V817.7"/>
<path d="M440.9 824.3V802.3H484.15V811.5"/>
<path d="M585.7 849.7V827.7H601.8V849.7"/>
<path d="M569.6 830.6V808.6H593.75V827.7"/>
<path d="M553.5 824.3V802.3H581.7V808.6"/>
<path d="M462.5 802.3V778.1H567.6V802.3"/>
<path d="M356.4 790.1V776.6H515.05V778.1"/>
<path d="M259.9 792.7V753.9H435.7V776.6"/>
<path d="M231.7 692.1V670.1H347.8V753.9"/>
<path d="M215.6 668.6V646.6H289.75V670.1"/>
<path d="M153.3 761V614.4H252.7V646.6"/>
</g>
<g font-size="13.5" text-anchor="end">
<text transform="translate(108,860) rotate(-90)">D7</text><text transform="translate(124.1,860) rotate(-90)">D8</text>
<text transform="translate(140.2,840.4) rotate(-90)">D3</text><text transform="translate(156.3,840.4) rotate(-90)">D6</text>
<text transform="translate(172.4,811.6) rotate(-90)">D2</text><text transform="translate(188.5,827.7) rotate(-90)">C1</text><text transform="translate(204.5,827.7) rotate(-90)">C14</text>
<text transform="translate(220.6,671.6) rotate(-90)">C10</text><text transform="translate(236.7,695.1) rotate(-90)">D13</text>
<text transform="translate(252.8,817.7) rotate(-90)">D9</text><text transform="translate(268.9,841.2) rotate(-90)">C3</text><text transform="translate(285,841.2) rotate(-90)">C13</text>
<text transform="translate(301.1,858.5) rotate(-90)">C9</text><text transform="translate(317.2,858.5) rotate(-90)">C15</text>
<text transform="translate(333.3,847) rotate(-90)">C5</text><text transform="translate(349.4,855.8) rotate(-90)">C2</text><text transform="translate(365.4,855.8) rotate(-90)">C6</text>
<text transform="translate(381.5,835.1) rotate(-90)">D15</text><text transform="translate(397.6,845.6) rotate(-90)">D11</text>
<text transform="translate(413.7,859.3) rotate(-90)">D12</text><text transform="translate(429.8,859.3) rotate(-90)">D16</text>
<text transform="translate(445.9,827.3) rotate(-90)">D14</text><text transform="translate(462,847.3) rotate(-90)">D1</text><text transform="translate(478.1,847.3) rotate(-90)">D10</text>
<text transform="translate(494.2,842.6) rotate(-90)">C8</text><text transform="translate(510.3,854.4) rotate(-90)">C7</text>
<text transform="translate(526.3,857.1) rotate(-90)">D4</text><text transform="translate(542.4,857.1) rotate(-90)">D17</text>
<text transform="translate(558.5,827.3) rotate(-90)">C4</text><text transform="translate(574.6,833.6) rotate(-90)">D5</text>
<text transform="translate(590.7,852.7) rotate(-90)">C11</text><text transform="translate(606.8,852.7) rotate(-90)">C12</text>
</g>
<text x="370" y="569" font-size="14" font-weight="bold" text-anchor="middle">Sample Clustering</text>
<g font-size="14" text-anchor="middle">
<text transform="translate(43,738) rotate(-90)">Height</text>
<text transform="translate(69,614) rotate(-90)">120</text><text transform="translate(69,663) rotate(-90)">100</text>
<text transform="translate(69,712) rotate(-90)">80</text><text transform="translate(69,761) rotate(-90)">60</text>
<text transform="translate(69,810) rotate(-90)">40</text><text transform="translate(69,859) rotate(-90)">20</text></g>

<!-- ================= Panel D ================= -->
<rect x="691" y="582.3" width="208.4" height="253.2" fill="none" stroke="#555" stroke-width="0.9"/>
<rect x="962.7" y="582.3" width="208.3" height="253.2" fill="none" stroke="#555" stroke-width="0.9"/>
<line x1="691" y1="596.5" x2="899.4" y2="596.5" stroke="#f00" stroke-width="0.8"/>
<g stroke="#333" stroke-width="0.8">
<line x1="739.9" y1="835.5" x2="739.9" y2="840.5"/><line x1="790.5" y1="835.5" x2="790.5" y2="840.5"/><line x1="841" y1="835.5" x2="841" y2="840.5"/><line x1="891.6" y1="835.5" x2="891.6" y2="840.5"/>
<line x1="1011.8" y1="835.5" x2="1011.8" y2="840.5"/><line x1="1062.4" y1="835.5" x2="1062.4" y2="840.5"/><line x1="1112.9" y1="835.5" x2="1112.9" y2="840.5"/><line x1="1163.5" y1="835.5" x2="1163.5" y2="840.5"/>
<line x1="686" y1="649.6" x2="691" y2="649.6"/><line x1="686" y1="725.6" x2="691" y2="725.6"/><line x1="686" y1="801.6" x2="691" y2="801.6"/>
<line x1="957.7" y1="827.8" x2="962.7" y2="827.8"/><line x1="957.7" y1="772.8" x2="962.7" y2="772.8"/><line x1="957.7" y1="717.9" x2="962.7" y2="717.9"/><line x1="957.7" y1="663.4" x2="962.7" y2="663.4"/><line x1="957.7" y1="608.5" x2="962.7" y2="608.5"/></g>
<g font-size="14" font-weight="bold" text-anchor="middle">
<text x="810" y="559">Scale independence</text><text x="1077" y="559">Mean connectivity</text>
<text x="806" y="867">Soft Threshold (power)</text><text x="1077" y="867">Soft Threshold (power)</text>
<text transform="translate(659,721) rotate(-90)" font-size="13.5">Scale Free Topology Model Fit,signed R^2</text>
<text transform="translate(931,698) rotate(-90)">Mean Connectivity</text>
<g font-size="13">
<text transform="translate(680,650) rotate(-90)">0.5</text><text transform="translate(680,726) rotate(-90)">0.0</text><text transform="translate(680,802) rotate(-90)">−0.5</text>
<text transform="translate(951,828) rotate(-90)">0</text><text transform="translate(951,773) rotate(-90)">1000</text><text transform="translate(951,718) rotate(-90)">2000</text>
<text transform="translate(951,663) rotate(-90)">3000</text><text transform="translate(951,608) rotate(-90)">4000</text></g></g>
<g font-size="14" text-anchor="middle">
<text x="740" y="850">5</text><text x="790.5" y="850">10</text><text x="841" y="850">15</text><text x="891.6" y="850">20</text>
<text x="1012" y="850">5</text><text x="1062.5" y="850">10</text><text x="1113" y="850">15</text><text x="1163.5" y="850">20</text></g>
<g font-size="11" fill="#f00" text-anchor="middle">
<text x="699.5" y="830">1</text><text x="709.6" y="729.6">2</text><text x="719.7" y="663">3</text><text x="729.8" y="629">4</text><text x="739.9" y="617">5</text>
<text x="750" y="611">6</text><text x="760.1" y="605.5">7</text><text x="770.2" y="602">8</text><text x="779.3" y="597.4">9</text><text x="790.5" y="597.4">10</text>
<text x="810.7" y="598.5">12</text><text x="830.9" y="600.3">14</text><text x="851.1" y="601.3">16</text><text x="871.4" y="599">18</text><text x="889.6" y="597.4">20</text>
<text x="971.5" y="595.6">1</text><text x="981.6" y="718">2</text><text x="991.7" y="766">3</text><text x="1001.8" y="790">4</text><text x="1011.8" y="803.5">5</text>
<text x="1021.9" y="811.4">6</text><text x="1032" y="816">7</text><text x="1042.1" y="820.3">8</text><text x="1051.2" y="822.5">9</text><text x="1062.4" y="824.6">10</text>
<text x="1082.6" y="827.4">12</text><text x="1102.8" y="828.6">14</text><text x="1123" y="829.8">16</text><text x="1143.3" y="830.3">18</text><text x="1161.5" y="830.7">20</text></g>

<!-- ================= Panel E ================= -->
<rect x="111" y="1040" width="422" height="208" fill="url(#dots)"/>
<g stroke="#333" stroke-width="0.8"><line x1="95" y1="962" x2="95" y2="1254"/>
<line x1="90" y1="1009.2" x2="95" y2="1009.2"/><line x1="90" y1="1061.2" x2="95" y2="1061.2"/><line x1="90" y1="1113.2" x2="95" y2="1113.2"/><line x1="90" y1="1165.2" x2="95" y2="1165.2"/><line x1="90" y1="1217.2" x2="95" y2="1217.2"/></g>
<g fill="url(#hat)">
<path d="M111 980.6 Q119 995 128 1030 L128 1048 Q119 1015 111 1000 Z"/>
<path d="M128 991 Q137 1025 146 1102.8 L146 1120 Q137 1048 128 1012 Z"/>
<path d="M146 1018.8 Q156 1070 166 1165.2 L166 1178 Q156 1092 146 1042 Z"/>
<path d="M167 978 Q176 1005 185 1061.2 L185 1078 Q176 1028 167 998 Z"/>
<path d="M185 1000.4 Q198 1040 212 1102.8 L212 1120 Q198 1062 185 1022 Z"/>
<path d="M212 1009.2 Q235 1050 259 1144.4 L259 1160 Q235 1074 212 1032 Z"/>
<path d="M259 1004 Q267 1015 275 1045.6 L275 1062 Q267 1034 259 1024 Z"/>
<path d="M275 1045.6 Q282 1075 290 1139.2 L290 1155 Q282 1097 275 1067 Z"/>
<path d="M290 1045.6 Q301 1075 313 1141.8 L313 1158 Q301 1097 290 1067 Z"/>
<path d="M313 1022.2 Q328 1035 343 1066.4 L343 1083 Q328 1054 313 1042 Z"/>
<path d="M343 1066.4 Q359 1090 375 1149.6 L375 1165 Q359 1112 343 1087 Z"/>
<path d="M375 1102.8 Q387 1125 400 1175.6 L400 1190 Q387 1147 375 1124 Z"/>
<path d="M400 1123.6 Q406 1135 413 1165.2 L413 1180 Q406 1154 400 1142 Z"/>
<path d="M414 1056 Q429 1070 445 1113.2 L445 1130 Q429 1092 414 1077 Z"/>
<path d="M445 1113.2 Q457 1140 470 1201.6 L470 1218 Q457 1162 445 1134 Z"/>
<path d="M470 1128.8 Q485 1145 500 1186 L500 1202 Q485 1167 470 1150 Z"/>
<path d="M500 1175.6 Q516 1190 533 1238 L533 1250 Q516 1212 500 1197 Z"/>
</g>
<g fill="url(#hat2)">
<path d="M111 990 Q119 1005 128 1045 L128 1080 Q119 1040 111 1020 Z"/>
<path d="M128 1005 Q137 1040 146 1118 L146 1140 Q137 1075 128 1050 Z"/>
<path d="M146 1035 Q156 1085 166 1175 L166 1185 Q156 1110 146 1075 Z"/>
<path d="M167 995 Q176 1020 185 1075 L185 1090 Q176 1050 167 1030 Z"/>
<path d="M185 1015 Q198 1055 212 1118 L212 1140 Q198 1090 185 1060 Z"/>
<path d="M212 1025 Q235 1065 259 1158 L259 1170 Q235 1100 212 1075 Z"/>
<path d="M275 1060 Q282 1090 290 1152 L290 1165 Q282 1120 275 1100 Z"/>
<path d="M290 1060 Q301 1090 313 1155 L313 1165 Q301 1120 290 1100 Z"/>
<path d="M343 1080 Q359 1105 375 1163 L375 1175 Q359 1140 343 1120 Z"/>
<path d="M375 1120 Q387 1140 400 1188 L400 1195 Q387 1165 375 1150 Z"/>
<path d="M414 1070 Q429 1085 445 1128 L445 1160 Q429 1120 414 1105 Z"/>
<path d="M445 1128 Q457 1155 470 1215 L470 1230 Q457 1190 445 1165 Z"/>
<path d="M470 1145 Q485 1160 500 1200 L500 1215 Q485 1190 470 1180 Z"/>
<path d="M500 1190 Q516 1205 533 1250 L533 1252 Q516 1235 500 1225 Z"/>
</g>
<g fill="none" stroke="#000" stroke-width="3">
<path d="M111 980.6 Q119 995 128 1030"/><path d="M128 991 Q137 1025 146 1102.8"/><path d="M146 1018.8 Q156 1070 166 1165.2"/>
<path d="M167 978 Q176 1005 185 1061.2"/><path d="M185 1000.4 Q198 1040 212 1102.8"/><path d="M212 1009.2 Q235 1050 259 1144.4"/>
<path d="M259 1004 Q267 1015 275 1045.6"/><path d="M275 1045.6 Q282 1075 290 1139.2"/><path d="M290 1045.6 Q301 1075 313 1141.8"/>
<path d="M313 1022.2 Q328 1035 343 1066.4"/><path d="M343 1066.4 Q359 1090 375 1149.6"/><path d="M375 1102.8 Q387 1125 400 1175.6"/><path d="M400 1123.6 Q406 1135 413 1165.2"/>
<path d="M414 1056 Q429 1070 445 1113.2"/><path d="M445 1113.2 Q457 1140 470 1201.6"/><path d="M470 1128.8 Q485 1145 500 1186"/><path d="M500 1175.6 Q516 1190 533 1238"/>
</g>
<g fill="none" stroke="#000" stroke-width="0.9">
<path d="M111 980.6V972.8H167V978"/><path d="M113 995V991H146V1018.8"/><path d="M184 1005V1000.4H259V1004"/><path d="M195 1015V1009.2H212"/>
<path d="M274 1025V1018H313V1022.2"/><path d="M280 1050V1045.6H290"/><path d="M343 1060V1053.4H414V1056"/><path d="M362 1115V1113.2H375"/>
<path d="M448 1130V1127.2H470"/><path d="M510 1197V1193.8H533V1238"/></g>
<!-- module colors -->
<g>
<rect x="111" y="1252" width="422" height="66" fill="#40E0D0"/>
<rect x="111" y="1252" width="2" height="66" fill="#BEBEBE"/><rect x="113" y="1252" width="1.5" height="66" fill="#FFA500"/><rect x="114.5" y="1252" width="1.5" height="66" fill="#A52A2A"/><rect x="116" y="1252" width="2" height="66" fill="#BEBEBE"/>
<rect x="118" y="1252" width="10" height="66" fill="#000"/>
<rect x="128" y="1252" width="4" height="66" fill="#ADFF2F"/><rect x="132" y="1252" width="3" height="66" fill="#FFFF00"/><rect x="135" y="1252" width="3" height="66" fill="#ADFF2F"/><rect x="138" y="1252" width="2" height="66" fill="#BEBEBE"/><rect x="140" y="1252" width="2" height="66" fill="#ADFF2F"/><rect x="142" y="1252" width="5" height="66" fill="#FFFF00"/>
<rect x="147" y="1252" width="19" height="66" fill="#00FF00"/>
<rect x="166" y="1252" width="5" height="66" fill="#BEBEBE"/><rect x="171" y="1252" width="2" height="66" fill="#A020F0"/><rect x="173" y="1252" width="4" height="66" fill="#BEBEBE"/><rect x="177" y="1252" width="2" height="66" fill="#FFC0CB"/><rect x="179" y="1252" width="3" height="66" fill="#BEBEBE"/><rect x="182" y="1252" width="2" height="66" fill="#A52A2A"/><rect x="184" y="1252" width="3" height="66" fill="#BEBEBE"/><rect x="187" y="1252" width="3" height="66" fill="#A52A2A"/>
<rect x="190" y="1252" width="10" height="66" fill="#0000FF"/>
<rect x="200" y="1252" width="3" height="66" fill="#FFA500"/><rect x="203" y="1252" width="2" height="66" fill="#A52A2A"/><rect x="205" y="1252" width="2" height="66" fill="#FFFF00"/><rect x="207" y="1252" width="6" height="66" fill="#0000FF"/><rect x="213" y="1252" width="3" height="66" fill="#A52A2A"/><rect x="216" y="1252" width="4" height="66" fill="#FFA500"/>
<rect x="220" y="1252" width="4" height="66" fill="#A52A2A"/><rect x="224" y="1252" width="2" height="66" fill="#FFFF00"/><rect x="226" y="1252" width="4" height="66" fill="#A52A2A"/><rect x="230" y="1252" width="3" height="66" fill="#FFA500"/><rect x="233" y="1252" width="3" height="66" fill="#A52A2A"/><rect x="236" y="1252" width="2" height="66" fill="#FFFF00"/><rect x="238" y="1252" width="2" height="66" fill="#FFA500"/>
<rect x="240" y="1252" width="18" height="66" fill="#A52A2A"/>
<rect x="258" y="1252" width="5" height="66" fill="#BEBEBE"/><rect x="263" y="1252" width="3" height="66" fill="#A020F0"/><rect x="266" y="1252" width="4" height="66" fill="#BEBEBE"/><rect x="270" y="1252" width="4" height="66" fill="#0000FF"/><rect x="274" y="1252" width="3" height="66" fill="#A020F0"/><rect x="277" y="1252" width="5" height="66" fill="#0000FF"/>
<rect x="282" y="1252" width="13" height="66" fill="#FF0000"/>
<rect x="295" y="1252" width="17" height="66" fill="#0000FF"/>
<rect x="312" y="1252" width="5" height="66" fill="#4169E1"/><rect x="317" y="1252" width="6" height="66" fill="#1E90FF"/><rect x="323" y="1252" width="5" height="66" fill="#0000FF"/><rect x="328" y="1252" width="6" height="66" fill="#1E90FF"/><rect x="334" y="1252" width="4" height="66" fill="#4169E1"/><rect x="338" y="1252" width="6" height="66" fill="#1E90FF"/><rect x="344" y="1252" width="8" height="66" fill="#4169E1"/>
<rect x="352" y="1252" width="5" height="66" fill="#0000FF"/>
<rect x="357" y="1252" width="4" height="66" fill="#A52A2A"/><rect x="361" y="1252" width="5" height="66" fill="#4169E1"/><rect x="366" y="1252" width="3" height="66" fill="#A020F0"/><rect x="369" y="1252" width="4" height="66" fill="#BEBEBE"/><rect x="373" y="1252" width="4" height="66" fill="#1E90FF"/><rect x="377" y="1252" width="3" height="66" fill="#A52A2A"/><rect x="380" y="1252" width="5" height="66" fill="#4169E1"/><rect x="385" y="1252" width="3" height="66" fill="#A020F0"/><rect x="388" y="1252" width="9" height="66" fill="#0000FF"/>
<rect x="409" y="1252" width="4" height="66" fill="#A52A2A"/>
<rect x="418" y="1252" width="2" height="66" fill="#1E90FF"/><rect x="424" y="1252" width="3" height="66" fill="#1E90FF"/><rect x="431" y="1252" width="2" height="66" fill="#0000FF"/><rect x="436" y="1252" width="3" height="66" fill="#1E90FF"/><rect x="443" y="1252" width="2" height="66" fill="#1E90FF"/>
<rect x="448" y="1252" width="6" height="66" fill="#0000FF"/>
</g>
<line x1="111" y1="1318" x2="533" y2="1318" stroke="#777" stroke-width="0.8"/>
<text x="321" y="948" font-size="15" font-weight="bold" text-anchor="middle">Cluster Dendrogram</text>
<g font-size="14" font-weight="bold" text-anchor="middle">
<text transform="translate(80,1009) rotate(-90)">0.9</text><text transform="translate(80,1061) rotate(-90)">0.8</text>
<text transform="translate(80,1113) rotate(-90)">0.7</text><text transform="translate(80,1165) rotate(-90)">0.6</text>
<text transform="translate(80,1217) rotate(-90)">0.5</text>
<text transform="translate(57,1108) rotate(-90)" font-size="15">Height</text></g>
<text x="50" y="1289" font-size="15" text-anchor="middle">Module colors</text>

<!-- ================= Panel F ================= -->
<rect x="703" y="982.7" width="25" height="77.6" fill="#40E0D0"/><rect x="732" y="982.7" width="196.6" height="77.6" fill="#C3E0FB"/><rect x="928.6" y="982.7" width="198" height="77.6" fill="#FCCABB"/>
<rect x="703" y="1060.1" width="25" height="77.6" fill="#0000FF"/><rect x="732" y="1060.1" width="394.6" height="77.6" fill="#FFFFFF"/>
<rect x="703" y="1137.6" width="25" height="77.6" fill="#A52A2A"/><rect x="732" y="1137.6" width="196.6" height="77.6" fill="#D7EAFC"/><rect x="928.6" y="1137.6" width="198" height="77.6" fill="#FDDAD0"/>
<rect x="703" y="1215" width="25" height="77.6" fill="#00FF00"/><rect x="732" y="1215" width="196.6" height="77.6" fill="#FDD5CA"/><rect x="928.6" y="1215" width="198" height="77.6" fill="#CFE6FC"/>
<rect x="703" y="1292.5" width="25" height="77.6" fill="#FFFF00"/><rect x="732" y="1292.5" width="196.6" height="77.6" fill="#FEF4F1"/><rect x="928.6" y="1292.5" width="198" height="77.6" fill="#F1F7FE"/>
<rect x="703" y="1369.9" width="25" height="77.6" fill="#000000"/><rect x="732" y="1369.9" width="196.6" height="77.6" fill="#FBB8A5"/><rect x="928.6" y="1369.9" width="198" height="77.6" fill="#ADD6FB"/>
<rect x="703" y="1447.3" width="25" height="77.5" fill="#FF0000"/><rect x="732" y="1447.3" width="196.6" height="77.5" fill="#FDDCD3"/><rect x="928.6" y="1447.3" width="198" height="77.5" fill="#D6EAFC"/>
<rect x="732" y="982.7" width="394.5" height="542" fill="none" stroke="#222" stroke-width="1"/>
<rect x="1134.5" y="1015" width="11" height="477.7" fill="url(#gf)" stroke="#222" stroke-width="0.8"/>
<g stroke="#222" stroke-width="0.8"><line x1="1145.5" y1="1015" x2="1150" y2="1015"/><line x1="1145.5" y1="1134.4" x2="1150" y2="1134.4"/><line x1="1145.5" y1="1253.6" x2="1150" y2="1253.6"/><line x1="1145.5" y1="1373" x2="1150" y2="1373"/><line x1="1145.5" y1="1492.7" x2="1150" y2="1492.7"/></g>
<text x="959" y="961" font-size="15" font-weight="bold" text-anchor="middle">Module−trait relationships</text>
<g font-size="15" font-weight="bold" text-anchor="end">
<text x="685" y="1026">MEturquoise</text><text x="685" y="1104">MEblue</text><text x="685" y="1181">MEbrown</text><text x="685" y="1259">MEgreen</text>
<text x="685" y="1336">MEyellow</text><text x="685" y="1414">MEblack</text><text x="685" y="1491">MEred</text></g>
<g font-size="15" font-weight="bold" text-anchor="middle"><text x="823" y="1543">ADHD</text><text x="1022" y="1543">CON</text></g>
<g font-size="15.5" text-anchor="middle">
<text x="832" y="1016">−0.26</text><text x="832" y="1034">(0.15)</text><text x="1029" y="1016">0.26</text><text x="1029" y="1034">(0.15)</text>
<text x="832" y="1094">0.0016</text><text x="832" y="1112">(0.99)</text><text x="1029" y="1094">−0.0016</text><text x="1029" y="1112">(0.99)</text>
<text x="832" y="1171">−0.18</text><text x="832" y="1189">(0.33)</text><text x="1029" y="1171">0.18</text><text x="1029" y="1189">(0.33)</text>
<text x="832" y="1249">0.21</text><text x="832" y="1267">(0.25)</text><text x="1029" y="1249">−0.21</text><text x="1029" y="1267">(0.25)</text>
<text x="832" y="1326">0.045</text><text x="832" y="1344">(0.81)</text><text x="1029" y="1326">−0.045</text><text x="1029" y="1344">(0.81)</text>
<text x="832" y="1404">0.35</text><text x="832" y="1422">(0.046)</text><text x="1029" y="1404">−0.35</text><text x="1029" y="1422">(0.046)</text>
<text x="832" y="1481">0.18</text><text x="832" y="1499">(0.32)</text><text x="1029" y="1481">−0.18</text><text x="1029" y="1499">(0.32)</text></g>
<g font-size="14"><text x="1153" y="1020">1</text><text x="1153" y="1139">0.5</text><text x="1153" y="1258">0</text><text x="1153" y="1378">−0.5</text><text x="1153" y="1497">−1</text></g>

<!-- ================= Panel G ================= -->
<ellipse cx="233" cy="1470" rx="97" ry="95" fill="#B7C8E6" fill-opacity="0.55" stroke="#000" stroke-width="1" stroke-dasharray="4 3"/>
<ellipse cx="362" cy="1470" rx="97" ry="95" fill="#C6A9D2" fill-opacity="0.5" stroke="#000" stroke-width="1" stroke-dasharray="4 3"/>
<g font-size="16" text-anchor="middle"><text x="229" y="1355" fill="#5B6478">DEGs</text><text x="386" y="1355" fill="#6F5B74">WGCNA</text></g>
<g font-size="15" text-anchor="middle">
<text x="227" y="1467">351</text><text x="221" y="1484">(50.9%)</text>
<text x="301" y="1467">31</text><text x="296" y="1484">(4.5%)</text>
<text x="383" y="1467">308</text><text x="376" y="1484">(44.6%)</text></g>

<!-- panel letters -->
<g font-weight="bold" font-size="20">
<text x="8" y="21">A</text><text x="683" y="21">B</text><text x="8" y="548">C</text><text x="606" y="548">D</text>
<text x="8" y="945">E</text><text x="539" y="945">F</text><text x="8" y="1379">G</text></g>
</svg>
</body></html>
